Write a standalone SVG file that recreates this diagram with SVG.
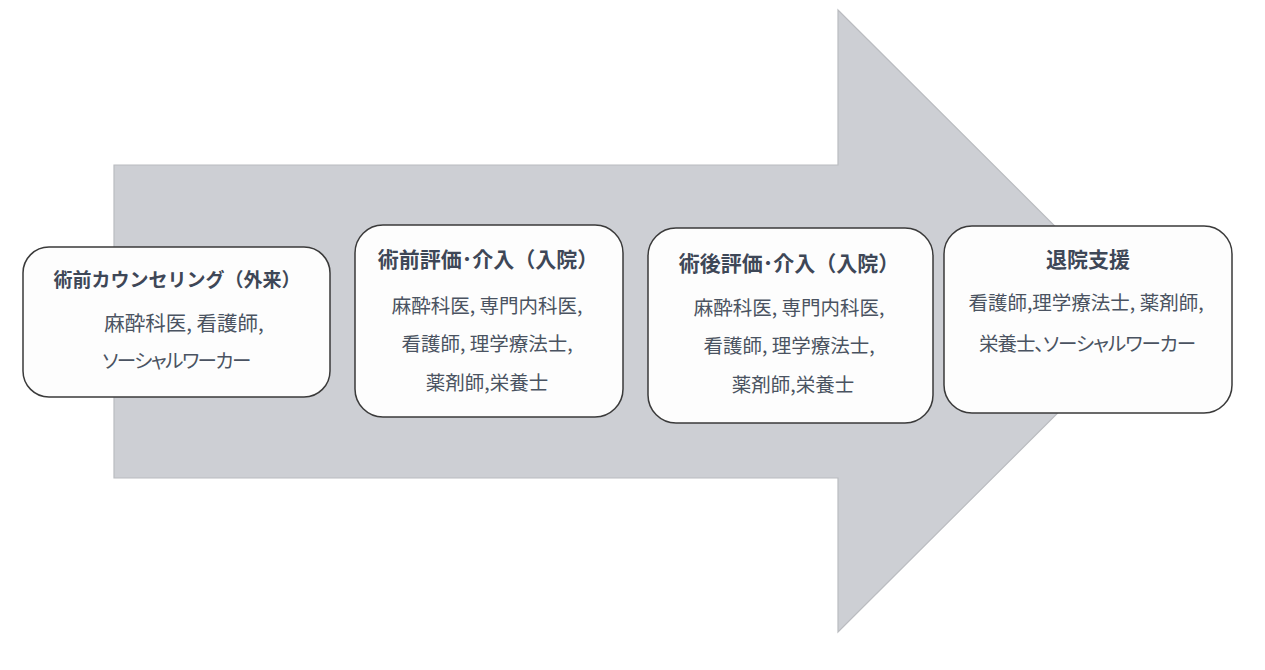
<svg xmlns="http://www.w3.org/2000/svg" width="1265" height="670" viewBox="0 0 1265 670">
<style>
.box{fill:#FDFDFD;stroke:#3A3A3A;stroke-width:1.5}
.t{font-family:"Noto Sans CJK JP","Noto Sans",sans-serif;text-anchor:middle;dominant-baseline:central}
.h{font-weight:bold;fill:#3E4757;font-size:21px}
.b{fill:#4A5361;font-size:19.5px;font-feature-settings:"palt" 1}
</style>
<rect width="1265" height="670" fill="#FFFFFF"/>
<g id="arrow">
<polygon points="114,165 838,165 838,10 1150,321 838,632 838,478 114,478" fill="#CDCFD4" stroke="#BABCC0" stroke-width="1.2"/>
</g>
<g id="connectors"></g>
<g id="node1">
<rect class="box" x="23" y="247" width="307" height="150" rx="26"/>
<text class="t h" x="177" y="278" style="font-size:19px">術前カウンセリング（外来）</text>
<text class="t b" x="184" y="322" style="font-size:20.5px">麻酔科医, 看護師,</text>
<text class="t b" x="176" y="359" style="letter-spacing:-1.5px">ソーシャルワーカー</text>
</g>
<g id="node2">
<rect class="box" x="355" y="225" width="268" height="192" rx="28"/>
<text class="t h" x="488" y="258">術前評価･介入（入院）</text>
<text class="t b" x="487" y="304">麻酔科医, 専門内科医,</text>
<text class="t b" x="487" y="342">看護師, 理学療法士,</text>
<text class="t b" x="487" y="381">薬剤師,栄養士</text>
</g>
<g id="node3">
<rect class="box" x="648" y="228" width="285" height="195" rx="28"/>
<text class="t h" x="789" y="262">術後評価･介入（入院）</text>
<text class="t b" x="789" y="306">麻酔科医, 専門内科医,</text>
<text class="t b" x="789" y="344">看護師, 理学療法士,</text>
<text class="t b" x="793" y="383">薬剤師,栄養士</text>
</g>
<g id="node4">
<rect class="box" x="944" y="226" width="288" height="187" rx="28"/>
<text class="t h" x="1088" y="258">退院支援</text>
<text class="t b" x="1086" y="301">看護師,理学療法士, 薬剤師,</text>
<text class="t b" x="1087" y="342" style="letter-spacing:-1px">栄養士、ソーシャルワーカー</text>
</g>
</svg>
